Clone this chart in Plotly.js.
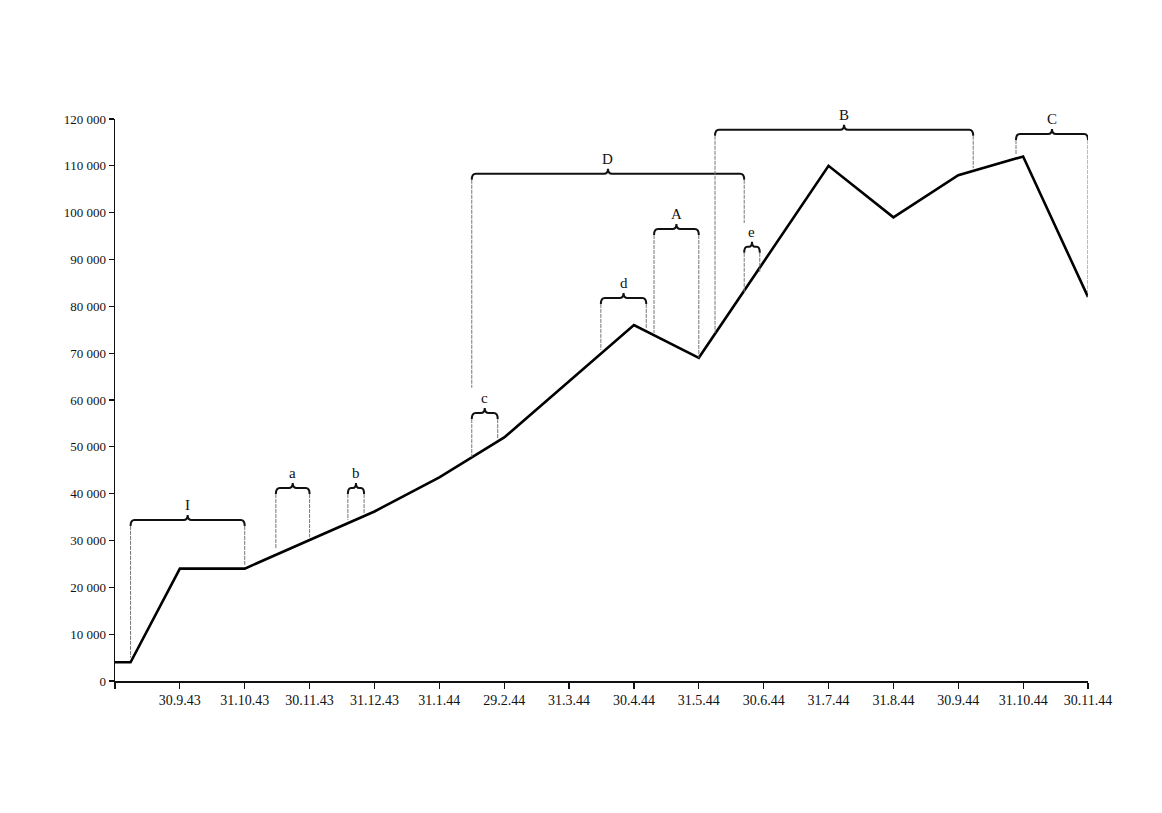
<!DOCTYPE html>
<html>
<head>
<meta charset="utf-8">
<script src="https://cdn.plot.ly/plotly-3.0.1.min.js"></script>
<style>html,body{margin:0;padding:0;background:#fff;}#chart{width:1162px;height:813px;}</style>
</head>
<body>
<div id="chart"></div>
<script>
// Month index: 0 = 31.8.43, 1 = 30.9.43, ... 15 = 30.11.44
const monthTickVals = [0,1,2,3,4,5,6,7,8,9,10,11,12,13,14,15];
const monthTickText = ['', '30.9.43','31.10.43','30.11.43','31.12.43','31.1.44','29.2.44','31.3.44','30.4.44','31.5.44','30.6.44','31.7.44','31.8.44','30.9.44','31.10.44','30.11.44'];
const yTickVals = [0,10000,20000,30000,40000,50000,60000,70000,80000,90000,100000,110000,120000];
const yTickText = ['0','10 000','20 000','30 000','40 000','50 000','60 000','70 000','80 000','90 000','100 000','110 000','120 000'];

// Line series
const seriesX = [0, 0.24, 1, 2, 3, 4, 5, 6, 8, 9, 11, 12, 13, 14, 15];
const seriesY = [4000, 4000, 24000, 24000, 30100, 36200, 43500, 52000, 76000, 69000, 110000, 99000, 108000, 112000, 82000];

// Brackets
const braceLabels = ['I','a','b','c','D','d','A','e','B','C'];
const braceStart  = [0.24, 2.48, 3.59, 5.50, 5.50, 7.49, 8.31, 9.70, 9.25, 13.89];
const braceEnd    = [2.0, 3.0, 3.84, 5.90, 9.70, 8.19, 9.0, 9.94, 13.23, 15.0];
const braceLevel  = [34400, 41200, 41200, 57200, 108300, 81800, 96500, 92700, 117700, 116800];
const leftFoot    = [5000, 28200, 34400, 47800, 62600, 70700, 74300, 83000, 74300, 112300];
const rightFoot   = [24800, 30700, 35700, 51700, 97800, 75400, 69000, 87300, 109500, 82000];

const W = 1162, H = 813;
const M = {l:115, r:74, t:119, b:132};
const xRange = [0, 15], yRange = [0, 120000];
const pxX = (W - M.l - M.r) / (xRange[1] - xRange[0]);   // px per month
const pxY = (H - M.t - M.b) / (yRange[1] - yRange[0]);   // px per unit
const dx = p => p / pxX, dy = p => p / pxY;

const shapes = [];
const annotations = [];
const hook = 6, peak = 5, curl = 4;
for (let i = 0; i < braceLabels.length; i++) {
  const x0 = braceStart[i], x1 = braceEnd[i], y = braceLevel[i];
  const xm = (x0 + x1) / 2;
  const c = Math.min(dx(curl), (x1 - x0) / 5);
  const path = 'M ' + x0 + ',' + (y - dy(hook)) +
    ' Q ' + x0 + ',' + y + ' ' + (x0 + c) + ',' + y +
    ' L ' + (xm - c) + ',' + y +
    ' Q ' + xm + ',' + y + ' ' + xm + ',' + (y + dy(peak)) +
    ' Q ' + xm + ',' + y + ' ' + (xm + c) + ',' + y +
    ' L ' + (x1 - c) + ',' + y +
    ' Q ' + x1 + ',' + y + ' ' + x1 + ',' + (y - dy(hook));
  shapes.push({type:'path', xref:'x', yref:'y', path:path, line:{color:'#111', width:2}});
  shapes.push({type:'line', xref:'x', yref:'y', x0:x0, x1:x0, y0:y - dy(hook), y1:leftFoot[i],
    line:{color:'#777', width:1, dash:'4px,1px'}});
  shapes.push({type:'line', xref:'x', yref:'y', x0:x1, x1:x1, y0:y - dy(hook), y1:rightFoot[i],
    line:{color:'#777', width:1, dash:'4px,1px'}});
  annotations.push({x:xm, y:y, xref:'x', yref:'y', text:braceLabels[i], showarrow:false,
    yshift:15, yanchor:'middle', font:{family:'Liberation Serif, serif', size:15, color:'#111'}});
}

const data = [{
  x: seriesX, y: seriesY, type:'scatter', mode:'lines',
  line:{color:'#000', width:2.6}, hoverinfo:'skip', cliponaxis:false
}];

const layout = {
  width: W, height: H,
  margin: M,
  paper_bgcolor:'#fff', plot_bgcolor:'#fff',
  showlegend:false,
  font:{family:'Liberation Serif, serif', color:'#111'},
  xaxis:{range:xRange, tickvals:monthTickVals, ticktext:monthTickText,
    showgrid:false, zeroline:false, showline:true, linecolor:'#111', linewidth:1.5,
    ticks:'outside', ticklen:6, tickwidth:1.2, tickcolor:'#111',
    tickfont:{family:'Liberation Serif, serif', size:14, color:'#111'}},
  yaxis:{range:yRange, tickvals:yTickVals, ticktext:yTickText,
    showgrid:false, zeroline:false, showline:true, linecolor:'#111', linewidth:1.5,
    ticks:'outside', ticklen:5, tickwidth:1.2, tickcolor:'#111',
    tickfont:{family:'Liberation Serif, serif', size:13, color:'#111'}},
  shapes: shapes,
  annotations: annotations
};

Plotly.newPlot('chart', data, layout, {staticPlot:true, displayModeBar:false});
</script>
</body>
</html>
